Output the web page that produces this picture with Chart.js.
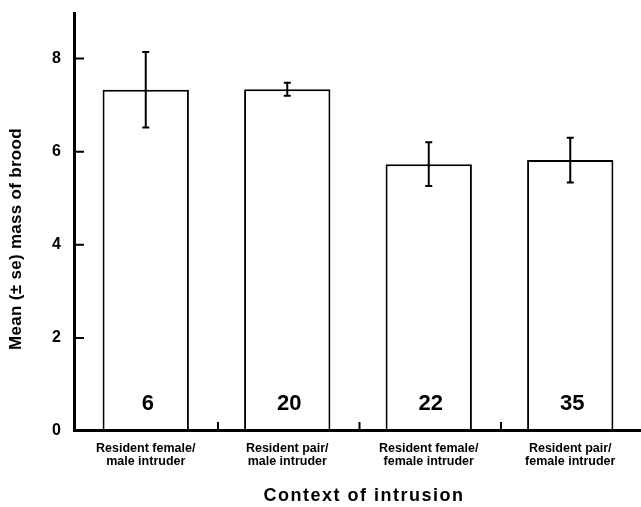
<!DOCTYPE html>
<html>
<head>
<meta charset="utf-8">
<script src="https://cdn.jsdelivr.net/npm/chart.js@4"></script>
<style>
  html, body { margin: 0; padding: 0; background: #fff; }
  #wrap { width: 641px; height: 507px; position: relative; }
</style>
</head>
<body>
<div id="wrap"><canvas id="chart"></canvas></div>
<script>
// Data
const categories = [
  ['Resident female/', 'male intruder'],
  ['Resident pair/', 'male intruder'],
  ['Resident female/', 'female intruder'],
  ['Resident pair/', 'female intruder']
];
const means = [7.33, 7.34, 5.73, 5.82];
const stdErrors = [0.81, 0.14, 0.47, 0.48];
const sampleSizes = [6, 20, 22, 35];
const yTicks = [0, 2, 4, 6, 8];

const FONT = '"Liberation Sans", Arial, Helvetica, sans-serif';

// Axis lines, inward tick marks, error bars, n labels and axis titles
const figurePlugin = {
  id: 'figure',
  afterDatasetsDraw(chart) {
    const ctx = chart.ctx;
    const area = chart.chartArea;
    const x = chart.scales.x;
    const y = chart.scales.y;
    const meta = chart.getDatasetMeta(0);

    ctx.save();
    ctx.strokeStyle = '#000';
    ctx.fillStyle = '#000';

    // error bars
    ctx.lineWidth = 2;
    meta.data.forEach((bar, i) => {
      const top = y.getPixelForValue(means[i] + stdErrors[i]);
      const bottom = y.getPixelForValue(means[i] - stdErrors[i]);
      ctx.beginPath();
      ctx.moveTo(bar.x, top);
      ctx.lineTo(bar.x, bottom);
      ctx.moveTo(bar.x - 3.5, top);
      ctx.lineTo(bar.x + 3.5, top);
      ctx.moveTo(bar.x - 3.5, bottom);
      ctx.lineTo(bar.x + 3.5, bottom);
      ctx.stroke();
    });

    // sample sizes inside the bars
    ctx.font = 'bold 22px ' + FONT;
    ctx.textAlign = 'center';
    ctx.textBaseline = 'middle';
    meta.data.forEach((bar, i) => {
      ctx.fillText(String(sampleSizes[i]), bar.x + 2, bar.base - 27);
    });

    // axes
    ctx.lineWidth = 3;
    ctx.beginPath();
    ctx.moveTo(area.left - 0.5, area.top);
    ctx.lineTo(area.left - 0.5, area.bottom + 1);
    ctx.moveTo(area.left - 2, area.bottom - 0.5);
    ctx.lineTo(area.right, area.bottom - 0.5);
    ctx.stroke();

    // inward y ticks
    ctx.lineWidth = 2;
    ctx.beginPath();
    yTicks.forEach(v => {
      if (v === 0) return;
      const py = y.getPixelForValue(v);
      ctx.moveTo(area.left, py);
      ctx.lineTo(area.left + 9, py);
    });
    // x separators between categories
    for (let i = 1; i < categories.length; i++) {
      const px = (x.getPixelForValue(i - 1) + x.getPixelForValue(i)) / 2 + 1.5;
      ctx.moveTo(px, area.bottom - 2);
      ctx.lineTo(px, area.bottom - 9);
    }
    ctx.stroke();

    // x title (letter-spaced like the scan)
    ctx.font = 'bold 18px ' + FONT;
    ctx.letterSpacing = '1.5px';
    ctx.fillText('Context of intrusion', 364, 496);

    // y title
    ctx.font = 'bold 17px ' + FONT;
    ctx.letterSpacing = '0.3px';
    ctx.translate(16, 239);
    ctx.rotate(-Math.PI / 2);
    ctx.fillText('Mean (\u00b1 se) mass of brood', 0, 0);
    ctx.restore();
  }
};

new Chart(document.getElementById('chart'), {
  type: 'bar',
  data: {
    labels: categories,
    datasets: [{
      data: means,
      backgroundColor: '#fff',
      borderColor: '#000',
      borderWidth: 2,
      barPercentage: 0.61,
      categoryPercentage: 1
    }]
  },
  options: {
    responsive: true,
    maintainAspectRatio: false,
    animation: false,
    layout: { padding: { top: 12, right: 0, left: 0, bottom: 0 } },
    plugins: {
      legend: { display: false },
      tooltip: { enabled: false }
    },
    scales: {
      x: {
        grid: { display: false, drawTicks: false },
        border: { display: false },
        ticks: {
          color: '#000',
          font: { family: FONT, size: 12.5, weight: 'bold', lineHeight: 1.05 },
          padding: 11,
          maxRotation: 0,
          autoSkip: false
        },
        afterFit(scale) {
          scale.height = 76;
          scale.paddingLeft = 0;
          scale.paddingRight = 0;
        }
      },
      y: {
        min: 0,
        max: 9,
        grid: { display: false, drawTicks: false },
        border: { display: false },
        ticks: {
          stepSize: 2,
          color: '#000',
          padding: 14,
          font: { family: FONT, size: 16, weight: 'bold' },
          callback: v => (yTicks.includes(v) ? v : '')
        },
        afterFit(scale) {
          scale.width = 75;
          scale.paddingTop = 0;
          scale.paddingBottom = 0;
        }
      }
    }
  },
  plugins: [figurePlugin]
});
</script>
</body>
</html>
